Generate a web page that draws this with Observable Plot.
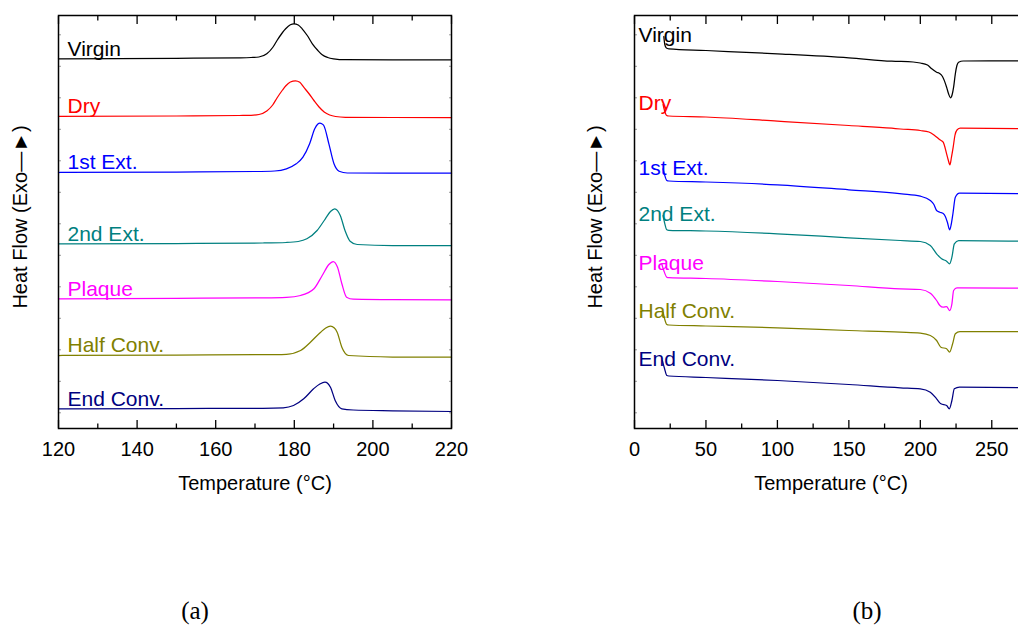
<!DOCTYPE html>
<html><head><meta charset="utf-8">
<script src="https://cdn.jsdelivr.net/npm/d3@7"></script>
<script src="https://cdn.jsdelivr.net/npm/@observablehq/plot@0.6"></script>
<style>
html,body{margin:0;padding:0;background:#fff;overflow:hidden;}
#wrap{position:relative;width:1018px;height:626px;overflow:hidden;background:#fff;}
#pa{position:absolute;left:0;top:0;width:480px;height:626px;}
#pb{position:absolute;left:560px;top:0;width:490px;height:626px;}
#wrap svg{max-width:none !important;}
</style></head><body><div id="wrap"><div id="pa"></div><div id="pb"></div></div>
<script>
// Samples and colours
const samples = ["Virgin", "Dry", "1st Ext.", "2nd Ext.", "Plaque", "Half Conv.", "End Conv."];
const colors = ["#000000", "#ff0000", "#0000ff", "#008080", "#ff00ff", "#808000", "#000080"];

// ---- Panel (a): cooling scans, temperature (°C) vs heat flow (a.u., stacked) ----
const aVirginT = [120,150,166,169,171,173,174.5,175.6,177,177.8,179,179.9,181,182,183.3,184.6,186,187.1,188.5,190,193,205,220];
const aVirginH = [369.7,370.2,370.7,371,371.5,374.7,381,388,396,399.7,403.7,404.7,403.5,399.7,393,384.7,378,373.7,371,369.7,368.8,368.7,368.7];
const aDryT = [120,150,166,169,171,173,174.5,175.6,177,177.8,179,180.3,181.4,182.4,183.7,185,186.3,187.6,189,190.5,193,205,220];
const aDryH = [312,312.5,313,313.2,314,317.5,323.5,330.5,338.5,342.5,346.5,347.7,346.2,341.3,335,328,321.5,316.5,313.5,312,311.2,311,311];
const a1stT = [120,150,170,175,178,180.5,182.2,183.9,185.2,186,186.5,187,187.5,188.8,190.1,191.4,193.5,205,220];
const a1stH = [256,256.5,257,257.5,259.7,264.7,271.3,284.7,299.7,304.5,305.3,304.7,303,284.7,264.7,257.3,255.5,255.3,255.3];
const a2ndT = [120,150,172,178,181,183.2,185.8,187.9,189.2,190.3,191.7,192.9,194.2,196,205,220];
const a2ndH = [184.7,185,185.5,186,187,189.7,198,209.7,217,219.7,213,198,187.3,184,183,183];
const aPlaqueT = [120,150,172,178,181.6,185,187.1,188.8,189.9,191,192.1,193.3,195,205,220];
const aPlaqueH = [129.7,130.2,130.7,131.2,133,139.7,153,164,167,161.3,144.7,131.3,129.3,128.8,128.7];
const aHalfT = [120,150,172,178,181.6,184.1,186.7,188,189.2,190.2,190.9,192.1,193.8,205,220];
const aHalfH = [73,73.5,73.8,74.2,78,86.3,96.3,100.5,102.3,100.5,96.3,81.3,73,71.5,71.3];
const aEndT = [120,150,172,177.2,179.8,182.4,184.9,186.5,187.8,189.2,190.4,192.1,195,205,220];
const aEndH = [19.7,20,20.2,20.7,23,29.7,39.7,44.5,46.3,41.3,28,19.7,18.5,17.7,17];

// ---- Panel (b): heating scans ----
const bVirginT = [20.5,21.2,22.3,24,50,100,150,180,195,200,205,208,211.4,213.5,215.5,218.4,219.7,221.1,222.3,223.3,224.5,225.6,226.8,230,275];
const bVirginH = [392,384,380.5,379.7,378,374.7,370.7,367.3,366.5,365.5,363.5,359.7,356.3,355,352,341.3,335,330.7,334,341.3,354.7,363,366.3,367.5,367.7];
const bDryT = [20,21,22.5,24,50,100,150,180,186,200,206,210,213.7,216,218.4,219.5,220.7,221.8,223,224.2,225.8,228,275];
const bDryH = [324,318,313,312.5,311.5,307.3,303,300.3,299.5,298,296.5,293,288.7,286.3,274.7,268.7,263.7,271.3,281.3,293,298.7,300.3,299.7];
const b1stT = [20,21,22.6,24,50,100,150,187,200,207,209.5,211.4,213.7,216,217.5,219,220.5,221.6,222.8,224.5,227.4,275];
const b1stH = [259.7,254,248,247.5,246.5,243.7,238.7,234.7,232.3,228,224,218,216.3,215,212,206,198.7,204,214.7,231.3,235.3,234.7];
const b2ndT = [20,21,22.6,24,50,100,150,186,200,207,211.4,214.9,218.4,220.5,222.1,223.8,226.8,275];
const b2ndH = [213,206,198.7,198.2,197.5,194.7,190.7,188,187,183,174.7,169.7,167.3,164.7,171.3,184.7,188,187.3];
const bPlaqueT = [19,20.5,22.6,24,50,100,150,186,200,207,211.4,213.7,216,218.4,220.5,222.1,223.3,225.6,275];
const bPlaqueH = [164.7,158,151.3,150.8,150,147,143,139.7,139,135.3,128,123,121.3,122,118,124.7,138,140.7,140.3];
const bHalfT = [20,21,22.6,24,50,100,150,186,200,207,211.4,214.4,218.4,220.5,222.6,224.5,227.7,275];
const bHalfH = [116.3,110,104,103.5,102.5,100.7,98,96.3,95.3,93,88,81.3,79.7,76.3,84.7,94.7,97,97];
const bEndT = [19.5,21,22.6,24,50,100,150,186,200,207,211.4,214.4,218.4,220.3,222.1,223.8,227.4,275];
const bEndH = [68,60,53,52.5,51,48,44,40.7,39.7,36.3,29.7,24.7,23,19.7,28,39.7,41.3,40.7];

// Tick labels
const aMajor = [120,140,160,180,200,220];
const aMinor = [130,150,170,190,210];
const bMajor = [0,50,100,150,200,250];
const bMinor = [25,75,125,175,225,275];

const aT = [aVirginT,aDryT,a1stT,a2ndT,aPlaqueT,aHalfT,aEndT];
const aH = [aVirginH,aDryH,a1stH,a2ndH,aPlaqueH,aHalfH,aEndH];
const bT = [bVirginT,bDryT,b1stT,b2ndT,bPlaqueT,bHalfT,bEndT];
const bH = [bVirginH,bDryH,b1stH,b2ndH,bPlaqueH,bHalfH,bEndH];

function rowsOf(Ts, Hs) {
  return samples.flatMap((s, i) => Ts[i].map((t, j) => ({sample: s, T: t, H: Hs[i][j]})));
}
function firstOf(Ts, Hs) {
  return samples.map((s, i) => ({sample: s, T: Ts[i][0], H: Hs[i][0]}));
}

const yTicks = d3.range(15.7, 413, 31.5);
const sans = "'Liberation Sans', Arial, Helvetica, sans-serif";

function panel({Ts, Hs, domain, major, minor, marginLeft, width, caption, captionDx, titleDx, labelDx, labelDy}) {
  return Plot.plot({
    width, height: 626,
    marginLeft, marginTop: 15, marginRight: width - marginLeft - 393, marginBottom: 626 - 15 - 413,
    style: {fontFamily: sans, fontSize: "20px", background: "#fff", color: "#000", overflow: "visible", maxWidth: "none"},
    x: {domain, label: null},
    y: {domain: [0, 413], label: null},
    color: {domain: samples, range: colors},
    marks: [
      Plot.axisY({anchor: "left", ticks: yTicks, tickSize: -3, text: null, label: null, stroke: "#9a9a9a"}),
      Plot.axisY({anchor: "right", ticks: yTicks, tickSize: -3, text: null, label: null, stroke: "#9a9a9a"}),
      Plot.axisX({anchor: "bottom", ticks: major, tickSize: -8, text: null, label: null, strokeWidth: 1.3}),
      Plot.axisX({anchor: "bottom", ticks: minor, tickSize: -4.5, text: null, label: null, strokeWidth: 1.3}),
      Plot.axisX({anchor: "top", ticks: major, tickSize: -8, text: null, label: null, strokeWidth: 1.3}),
      Plot.axisX({anchor: "top", ticks: minor, tickSize: -4.5, text: null, label: null, strokeWidth: 1.3}),
      Plot.axisX({anchor: "bottom", ticks: major, tickSize: 0, tickPadding: 13, label: null, fontSize: 20, tickFormat: d => String(d)}),
      Plot.line(rowsOf(Ts, Hs), {x: "T", y: "H", z: "sample", stroke: "sample", strokeWidth: 1.25, curve: "monotone-x"}),
      Plot.text(firstOf(Ts, Hs), {y: "H", text: "sample", fill: "sample", frameAnchor: "left", textAnchor: "start", dx: labelDx, dy: labelDy, fontSize: 21}),
      Plot.frame({stroke: "#000", strokeWidth: 1.5}),
      Plot.text(["Heat Flow (Exo\u2014\u25BA)"], {frameAnchor: "left", textAnchor: "middle", rotate: -90, dx: titleDx, dy: -5, fontSize: 20}),
      Plot.text(["Temperature (\u00B0C)"], {frameAnchor: "bottom", dy: 61, fontSize: 20}),
      Plot.text([caption], {frameAnchor: "bottom", dx: captionDx, dy: 190, fontSize: 25, fontFamily: "'Liberation Serif', 'Times New Roman', serif"})
    ]
  });
}

document.getElementById("pa").append(panel({
  Ts: aT, Hs: aH, domain: [120, 220], major: aMajor, minor: aMinor,
  marginLeft: 58, width: 480, caption: "(a)", captionDx: -60, titleDx: -38, labelDx: 9, labelDy: -10
}));
document.getElementById("pb").append(panel({
  Ts: bT, Hs: bH, domain: [0, 275], major: bMajor, minor: bMinor,
  marginLeft: 74, width: 490, caption: "(b)", captionDx: 36, titleDx: -39, labelDx: 4, labelDy: -1
}));
</script></body></html>
